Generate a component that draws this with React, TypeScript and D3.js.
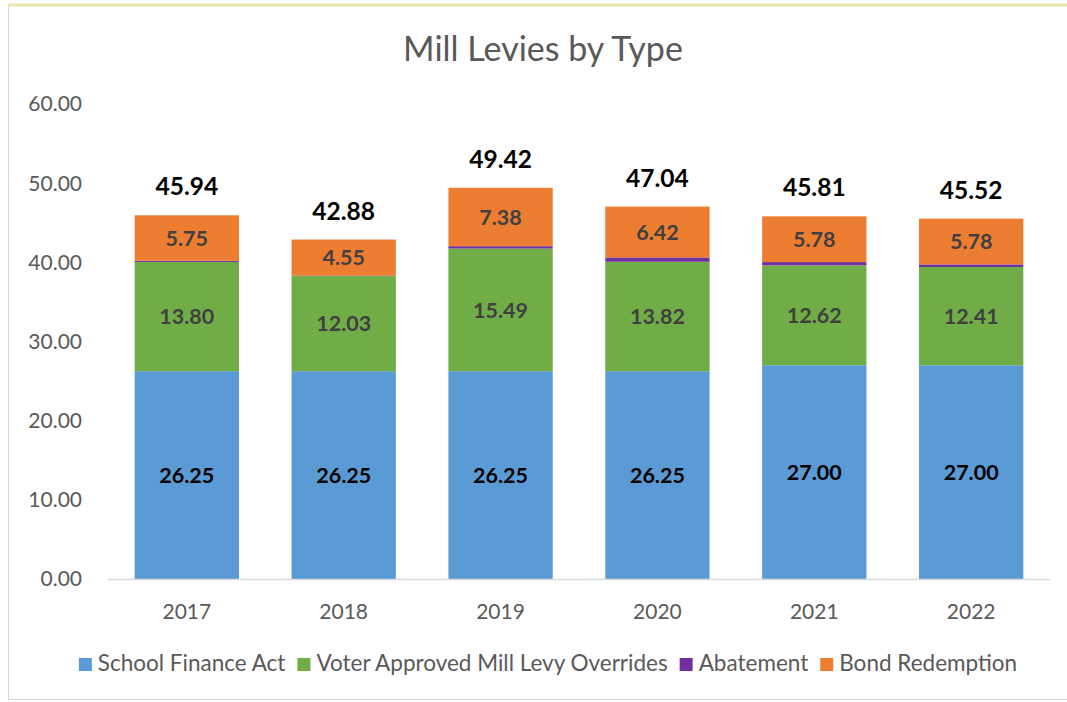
import { useEffect, useRef } from 'react';
import * as d3 from 'd3';

const years = ['2017', '2018', '2019', '2020', '2021', '2022'];
const schoolFinance = [26.25, 26.25, 26.25, 26.25, 27.0, 27.0];
const voterOverrides = [13.8, 12.03, 15.49, 13.82, 12.62, 12.41];
const abatement = [0.14, 0.05, 0.3, 0.55, 0.41, 0.33];
const bondRedemption = [5.75, 4.55, 7.38, 6.42, 5.78, 5.78];
const totals = [45.94, 42.88, 49.42, 47.04, 45.81, 45.52];
const yTicks = [0, 10, 20, 30, 40, 50, 60];

const seriesNames = ['School Finance Act', 'Voter Approved Mill Levy Overrides', 'Abatement', 'Bond Redemption'];
const seriesColors = ['#5b9bd5', '#70ad47', '#7030a0', '#ed7d31'];
const labelColors = ['#000000', '#404040', null, '#404040'];

const FONT = 'Lato, "Open Sans", sans-serif';

export default function App() {
  const ref = useRef<SVGSVGElement | null>(null);

  useEffect(() => {
    document.body.style.margin = '0';
    if (!ref.current) return;
    const svg = d3.select(ref.current);
    svg.selectAll('*').remove();

    const width = 1067;
    const height = 702;
    const margin = { top: 104, right: 17, bottom: 123, left: 108 };
    const innerW = width - margin.left - margin.right;
    const innerH = height - margin.top - margin.bottom;

    // chart frame
    svg.append('rect').attr('x', 0).attr('y', 0).attr('width', width).attr('height', height).attr('fill', '#ffffff');
    svg.append('rect')
      .attr('x', 8.5).attr('y', 5.5).attr('width', width).attr('height', 694)
      .attr('fill', 'none').attr('stroke', '#d9d9d9');
    svg.append('line')
      .attr('x1', 8).attr('x2', width).attr('y1', 5).attr('y2', 5)
      .attr('stroke', '#ece6a8').attr('stroke-width', 3);

    svg.append('text')
      .attr('x', 543).attr('y', 61)
      .attr('text-anchor', 'middle')
      .style('font-family', FONT).style('font-size', '34px')
      .attr('fill', '#595959')
      .text('Mill Levies by Type');

    const rows = years.map((y, i) => ({
      year: y,
      s0: schoolFinance[i],
      s1: voterOverrides[i],
      s2: abatement[i],
      s3: bondRedemption[i],
    }));
    const stack = d3.stack<any>().keys(['s0', 's1', 's2', 's3']);
    const series = stack(rows);

    const x = d3.scaleBand().domain(years).range([0, innerW]).paddingInner(0.335).paddingOuter(0.17);
    const y = d3.scaleLinear().domain([0, 60]).range([innerH, 0]);

    const g = svg.append('g').attr('transform', `translate(${margin.left},${margin.top})`);

    // y ticks
    g.selectAll('.ytick')
      .data(yTicks)
      .enter()
      .append('text')
      .attr('x', -26)
      .attr('y', (d) => y(d))
      .attr('dy', '0.35em')
      .attr('text-anchor', 'end')
      .style('font-family', FONT).style('font-size', '21px')
      .attr('fill', '#595959')
      .text((d) => d3.format('.2f')(d));

    series.forEach((s, si) => {
      g.selectAll(`.bar${si}`)
        .data(s)
        .enter()
        .append('rect')
        .attr('x', (d: any) => x(d.data.year) || 0)
        .attr('y', (d) => y(d[1]))
        .attr('width', x.bandwidth())
        .attr('height', (d) => y(d[0]) - y(d[1]))
        .attr('fill', seriesColors[si]);
    });

    // baseline
    g.append('line')
      .attr('x1', 0).attr('x2', innerW)
      .attr('y1', innerH + 0.5).attr('y2', innerH + 0.5)
      .attr('stroke', '#d9d9d9').attr('stroke-width', 1.5);

    // segment labels
    series.forEach((s, si) => {
      const col = labelColors[si];
      if (!col) return;
      g.selectAll(`.lab${si}`)
        .data(s)
        .enter()
        .append('text')
        .attr('x', (d: any) => (x(d.data.year) || 0) + x.bandwidth() / 2)
        .attr('y', (d) => (y(d[0]) + y(d[1])) / 2)
        .attr('dy', '0.36em')
        .attr('text-anchor', 'middle')
        .style('font-family', FONT).style('font-size', '21.5px').style('font-weight', 'bold')
        .attr('fill', col)
        .text((d) => d3.format('.2f')(d[1] - d[0]));
    });

    // totals
    g.selectAll('.total')
      .data(years)
      .enter()
      .append('text')
      .attr('x', (d) => (x(d) || 0) + x.bandwidth() / 2)
      .attr('y', (d, i) => y(totals[i]) - 20)
      .attr('text-anchor', 'middle')
      .style('font-family', FONT).style('font-size', '24.5px').style('font-weight', 'bold')
      .attr('fill', '#000000')
      .text((d, i) => d3.format('.2f')(totals[i]));

    // x labels
    g.selectAll('.xlab')
      .data(years)
      .enter()
      .append('text')
      .attr('x', (d) => (x(d) || 0) + x.bandwidth() / 2)
      .attr('y', innerH + 40)
      .attr('text-anchor', 'middle')
      .style('font-family', FONT).style('font-size', '21px')
      .attr('fill', '#595959')
      .text((d) => d);

    // legend
    const legend = svg.append('g');
    let cx = 0;
    seriesNames.forEach((name, i) => {
      const item = legend.append('g').attr('transform', `translate(${cx},0)`);
      item.append('rect').attr('x', 0).attr('y', -13).attr('width', 13).attr('height', 13).attr('fill', seriesColors[i]);
      const t = item.append('text')
        .attr('x', 19).attr('y', 0)
        .style('font-family', FONT).style('font-size', '22.5px')
        .attr('fill', '#595959')
        .text(name);
      const w = (t.node() as SVGTextElement).getComputedTextLength();
      cx += 19 + w + 12;
    });
    const totalW = cx - 12;
    legend.attr('transform', `translate(${548 - totalW / 2},671)`);
  }, []);

  return <svg ref={ref} width={1067} height={702} style={{ display: 'block' }} />;
}
